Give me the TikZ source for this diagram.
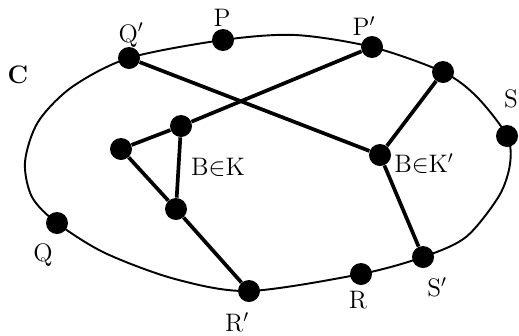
\documentclass[tikz,border=0pt]{standalone}
\usetikzlibrary{positioning}
\tikzset{
  punto/.style  = {circle, fill=black, inner sep=0pt, minimum size=4.4mm},
  arista/.style = {line width=2.1pt},
  curva/.style  = {line width=1.1pt},
  etq/.style    = {font=\Large, inner sep=1pt},
}
\begin{document}
\begin{tikzpicture}[x=0.2mm, y=-0.2mm]
  \useasboundingbox (0,0) rectangle (519,335);
  % puntos sobre la curva C
  \node[punto] (qp) at (129,58)  {};
  \node[punto] (p)  at (223,40)  {};
  \node[punto] (pp) at (372,47)  {};
  \node[punto] (t)  at (443,72)  {};
  \node[punto] (s)  at (507,136) {};
  \node[punto] (sp) at (423,257) {};
  \node[punto] (r)  at (361,274) {};
  \node[punto] (rp) at (249,291) {};
  \node[punto] (q)  at (57,223)  {};
  % puntos interiores
  \node[punto] (b1) at (181,126) {};
  \node[punto] (b2) at (121,149) {};
  \node[punto] (b3) at (176,209) {};
  \node[punto] (bk) at (380,155) {};
  % curva C
  \coordinate (c1) at (72,87);
  \coordinate (c2) at (38,122);
  \coordinate (c3) at (25,162);
  \coordinate (c4) at (32,197);
  \coordinate (c5) at (105,253);
  \coordinate (c6) at (175,279);
  \coordinate (c7) at (466,237);
  \coordinate (c8) at (499,196);
  \coordinate (c9) at (510,164);
  \coordinate (c10) at (477,97);
  \coordinate (c11) at (295,35);
  \draw[curva] plot[smooth cycle, tension=0.5] coordinates {(qp.center) (c1) (c2) (c3) (c4) (q.center) (c5) (c6) (rp.center) (r.center) (sp.center) (c7) (c8) (c9) (s.center) (c10) (t.center) (pp.center) (c11) (p.center)};
  % aristas
  \draw[arista] (qp) -- (bk);
  \draw[arista] (bk) -- (t);
  \draw[arista] (bk) -- (sp);
  \draw[arista] (pp) -- (b1);
  \draw[arista] (b1) -- (b2);
  \draw[arista] (b1) -- (b3);
  \draw[arista] (b2) -- (b3);
  \draw[arista] (b3) -- (rp);
  % etiquetas
  \node[etq] (lc)  at (18,75)   {\textbf{C}};
  \node[etq] (lqp) at (131,35)  {Q$'$};
  \node[etq] (lp)  at (222,18)  {P};
  \node[etq] (lpp) at (364,26)  {P$'$};
  \node[etq] (ls)  at (511,99)  {S};
  \node[etq] (lb1) at (218,167) {B$\in$K};
  \node[etq] (lbk) at (424,164) {B$\in$K$'$};
  \node[etq] (lq)  at (43,255)  {Q};
  \node[etq] (lrp) at (237,322) {R$'$};
  \node[etq] (lr)  at (358,300) {R};
  \node[etq] (lsp) at (437,287) {S$'$};
\end{tikzpicture}
\end{document}
